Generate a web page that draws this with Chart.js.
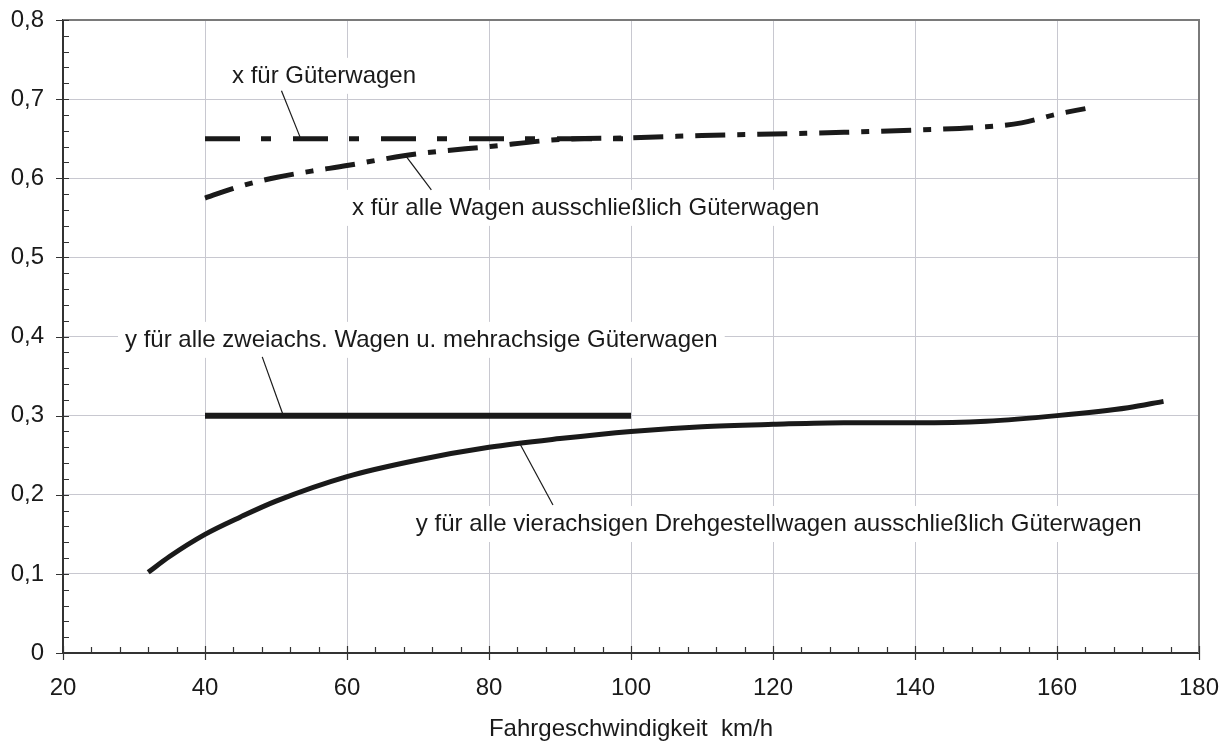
<!DOCTYPE html>
<html lang="de">
<head>
<meta charset="utf-8">
<title>Fahrgeschwindigkeit</title>
<script src="https://cdn.jsdelivr.net/npm/chart.js@4.4.1/dist/chart.umd.min.js"></script>
<style>
  html, body { margin: 0; padding: 0; background: #fff; }
  #wrap { width: 1231px; height: 744px; position: relative; }
</style>
</head>
<body>
<div id="wrap"><canvas id="chart"></canvas></div>
<script>
// Values (speed in km/h)
const speedGueter = [40, 100];
const xGueter = [0.65, 0.65];

const speedAlle = [40, 45, 50, 55, 60, 65, 70, 80, 90, 100, 110, 120, 130, 140, 150, 155, 160, 164];
const xAlle = [0.575, 0.590, 0.601, 0.609, 0.616, 0.624, 0.631, 0.640, 0.649, 0.651, 0.654, 0.656, 0.658, 0.661, 0.665, 0.670, 0.681, 0.688];

const speedZweiachs = [40, 100];
const yZweiachs = [0.3, 0.3];

const speedVierachs = [32, 35, 40, 45, 50, 60, 70, 80, 90, 100, 110, 120, 130, 140, 150, 160, 170, 175];
const yVierachs = [0.102, 0.122, 0.150, 0.172, 0.192, 0.223, 0.244, 0.260, 0.271, 0.280, 0.286, 0.289, 0.291, 0.291, 0.293, 0.300, 0.310, 0.318];

const xTickLabels = ['20', '40', '60', '80', '100', '120', '140', '160', '180'];
const yTickLabels = ['0', '0,1', '0,2', '0,3', '0,4', '0,5', '0,6', '0,7', '0,8'];
const xAxisTitle = 'Fahrgeschwindigkeit  km/h';

// Callout labels: text start (x, baseline y) and leader line, in data units
const notes = [
  { text: 'x für Güterwagen', x: 43.8, y: 0.7206, from: [50.77, 0.7105], to: [53.38, 0.6523] },
  { text: 'x für alle Wagen ausschließlich Güterwagen', x: 60.7, y: 0.5537, from: [68.36, 0.6274], to: [71.88, 0.5853] },
  { text: 'y für alle zweiachs. Wagen u. mehrachsige Güterwagen', x: 28.73, y: 0.3869, from: [48.06, 0.3742], to: [50.95, 0.3021] },
  { text: 'y für alle vierachsigen Drehgestellwagen ausschließlich Güterwagen', x: 69.7, y: 0.1542, from: [84.37, 0.2642], to: [89.01, 0.1871] }
];

const FONT = { family: "'Liberation Sans', Arial, sans-serif", size: 24 };
const INK = '#1a1a1a';
const GRID = '#c8c8d0';

function pts(xs, ys) {
  return xs.map((x, i) => ({ x: x, y: ys[i] }));
}

// minor tick marks inside the plot, top/right frame
const frame = {
  id: 'frame',
  beforeDatasetsDraw(chart) {
    const { ctx, chartArea: a, scales: { x, y } } = chart;
    ctx.save();
    ctx.strokeStyle = '#7a7a7a';
    ctx.lineWidth = 2;
    ctx.beginPath();
    ctx.moveTo(a.left, a.top);
    ctx.lineTo(a.right, a.top);
    ctx.lineTo(a.right, a.bottom);
    ctx.stroke();

    ctx.strokeStyle = '#333';
    ctx.lineWidth = 1.2;
    ctx.beginPath();
    for (let i = 0; i <= 40; i++) {
      const px = Math.round(x.getPixelForValue(20 + i * 4)) + 0.5;
      const major = i % 5 === 0;
      ctx.moveTo(px, a.bottom - (major ? 7 : 6));
      ctx.lineTo(px, a.bottom + (major ? 7 : 0));
    }
    for (let i = 0; i <= 40; i++) {
      const py = Math.round(y.getPixelForValue(i * 0.02)) + 0.5;
      const major = i % 5 === 0;
      ctx.moveTo(a.left - (major ? 7 : 0), py);
      ctx.lineTo(a.left + 6, py);
    }
    ctx.stroke();
    ctx.restore();
  }
};

const callouts = {
  id: 'callouts',
  afterDatasetsDraw(chart) {
    const { ctx, scales: { x, y } } = chart;
    ctx.save();
    ctx.font = FONT.size + 'px ' + FONT.family;
    ctx.textBaseline = 'alphabetic';
    ctx.textAlign = 'left';
    notes.forEach(n => {
      const tx = x.getPixelForValue(n.x);
      const ty = y.getPixelForValue(n.y);
      const w = ctx.measureText(n.text).width;
      ctx.fillStyle = '#fff';
      ctx.fillRect(tx - 7, ty - 25, w + 14, 36);
      ctx.strokeStyle = INK;
      ctx.lineWidth = 1.2;
      ctx.beginPath();
      ctx.moveTo(x.getPixelForValue(n.from[0]), y.getPixelForValue(n.from[1]));
      ctx.lineTo(x.getPixelForValue(n.to[0]), y.getPixelForValue(n.to[1]));
      ctx.stroke();
      ctx.fillStyle = INK;
      ctx.fillText(n.text, tx, ty);
    });
    ctx.restore();
  }
};

const lineStyle = {
  borderColor: INK,
  pointRadius: 0,
  fill: false,
  borderCapStyle: 'butt',
  cubicInterpolationMode: 'monotone'
};

new Chart(document.getElementById('chart'), {
  type: 'line',
  data: {
    datasets: [
      { ...lineStyle, label: 'x für Güterwagen', data: pts(speedGueter, xGueter), borderWidth: 5, borderDash: [35, 21, 10, 22] },
      { ...lineStyle, label: 'x für alle Wagen', data: pts(speedAlle, xAlle), borderWidth: 5, borderDash: [30, 12, 8, 12] },
      { ...lineStyle, label: 'y zweiachs.', data: pts(speedZweiachs, yZweiachs), borderWidth: 6 },
      { ...lineStyle, label: 'y vierachsig', data: pts(speedVierachs, yVierachs), borderWidth: 5 }
    ]
  },
  options: {
    responsive: true,
    maintainAspectRatio: false,
    devicePixelRatio: 1,
    animation: false,
    layout: { padding: { left: 0, right: 32, top: 20, bottom: 0 } },
    plugins: {
      legend: { display: false },
      tooltip: { enabled: false }
    },
    scales: {
      x: {
        type: 'linear',
        min: 20,
        max: 180,
        ticks: {
          stepSize: 20,
          padding: 21,
          color: INK,
          font: FONT,
          maxRotation: 0,
          callback: (v, i) => xTickLabels[i]
        },
        grid: { color: GRID, lineWidth: 1, drawTicks: false },
        border: { color: '#333', width: 2 },
        title: { display: true, text: xAxisTitle, color: INK, font: FONT, padding: { top: 0, bottom: 0 } },
        afterFit: s => { s.height = 91; s.paddingLeft = 0; s.paddingRight = 0; }
      },
      y: {
        min: 0,
        max: 0.8,
        ticks: {
          stepSize: 0.1,
          padding: 19,
          color: INK,
          font: FONT,
          callback: (v, i) => yTickLabels[i]
        },
        grid: { color: GRID, lineWidth: 1, drawTicks: false },
        border: { color: '#333', width: 2 },
        afterFit: s => { s.width = 63; s.paddingTop = 0; s.paddingBottom = 0; }
      }
    }
  },
  plugins: [frame, callouts]
});
</script>
</body>
</html>
